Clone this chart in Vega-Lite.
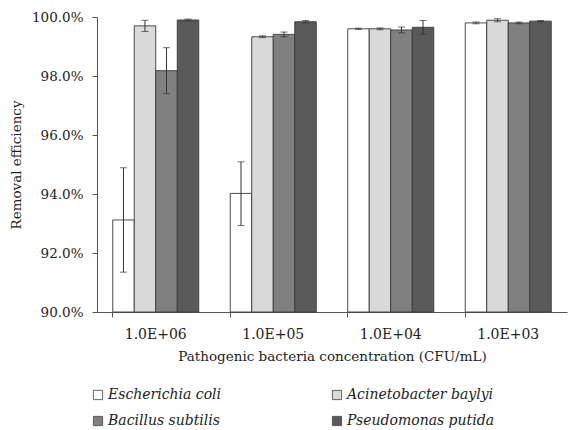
{
  "$schema": "https://vega.github.io/schema/vega-lite/v6.json",
  "autosize": "none",
  "width": 470,
  "height": 295,
  "padding": {"left": 97, "top": 17, "right": 1, "bottom": 118},
  "background": "white",
  "config": {
    "font": "DejaVu Serif",
    "view": {"stroke": null},
    "axis": {"labelFont": "DejaVu Serif", "titleFont": "DejaVu Serif", "labelColor": "#222", "titleColor": "#222", "titleFontWeight": "normal", "domainColor": "#555", "tickColor": "#555", "grid": false},
    "legend": {"labelFont": "DejaVu Serif"}
  },
  "data": {
    "values": [
      {"conc": "1.0E+06", "species": "Escherichia coli", "value": 0.9312, "lo": 0.9135, "hi": 0.9489},
      {"conc": "1.0E+06", "species": "Acinetobacter baylyi", "value": 0.9970, "lo": 0.9951, "hi": 0.9989},
      {"conc": "1.0E+06", "species": "Bacillus subtilis", "value": 0.9818, "lo": 0.9740, "hi": 0.9896},
      {"conc": "1.0E+06", "species": "Pseudomonas putida", "value": 0.9990, "lo": 0.9987, "hi": 0.9993},
      {"conc": "1.0E+05", "species": "Escherichia coli", "value": 0.9402, "lo": 0.9293, "hi": 0.9509},
      {"conc": "1.0E+05", "species": "Acinetobacter baylyi", "value": 0.9933, "lo": 0.9930, "hi": 0.9936},
      {"conc": "1.0E+05", "species": "Bacillus subtilis", "value": 0.9941, "lo": 0.9933, "hi": 0.9949},
      {"conc": "1.0E+05", "species": "Pseudomonas putida", "value": 0.9984, "lo": 0.9980, "hi": 0.9988},
      {"conc": "1.0E+04", "species": "Escherichia coli", "value": 0.9960, "lo": 0.9958, "hi": 0.9962},
      {"conc": "1.0E+04", "species": "Acinetobacter baylyi", "value": 0.9960, "lo": 0.9957, "hi": 0.9963},
      {"conc": "1.0E+04", "species": "Bacillus subtilis", "value": 0.9956, "lo": 0.9946, "hi": 0.9966},
      {"conc": "1.0E+04", "species": "Pseudomonas putida", "value": 0.9965, "lo": 0.9942, "hi": 0.9988},
      {"conc": "1.0E+03", "species": "Escherichia coli", "value": 0.9980, "lo": 0.9977, "hi": 0.9983},
      {"conc": "1.0E+03", "species": "Acinetobacter baylyi", "value": 0.9989, "lo": 0.9984, "hi": 0.9994},
      {"conc": "1.0E+03", "species": "Bacillus subtilis", "value": 0.9980, "lo": 0.9977, "hi": 0.9983},
      {"conc": "1.0E+03", "species": "Pseudomonas putida", "value": 0.9986, "lo": 0.9984, "hi": 0.9988}
    ]
  },
  "encoding": {
    "x": {
      "field": "conc", "type": "nominal", "sort": null,
      "scale": {"paddingInner": 0.268, "paddingOuter": 0.134},
      "axis": {"title": "Pathogenic bacteria concentration (CFU/mL)", "labelAngle": 0, "labelFontSize": 14, "titleFontSize": 13.5, "bandPosition": 0, "tickSize": 5, "labelPadding": 10, "titlePadding": 8}
    },
    "xOffset": {"field": "species", "type": "nominal", "sort": ["Escherichia coli", "Acinetobacter baylyi", "Bacillus subtilis", "Pseudomonas putida"]}
  },
  "layer": [
    {
      "mark": {"type": "bar", "stroke": "#3a3a3a", "strokeWidth": 0.9},
      "encoding": {
        "y": {"field": "value", "type": "quantitative", "scale": {"domain": [0.9, 1.0], "zero": false, "nice": false},
          "axis": {"title": "Removal efficiency", "format": ".1%", "values": [0.9, 0.92, 0.94, 0.96, 0.98, 1.0], "labelFontSize": 13.5, "titleFontSize": 13.5, "tickSize": 5, "labelPadding": 9, "titlePadding": 8}},
        "y2": {"datum": 0.9},
        "fill": {
          "field": "species", "type": "nominal",
          "sort": ["Escherichia coli", "Acinetobacter baylyi", "Bacillus subtilis", "Pseudomonas putida"],
          "scale": {"domain": ["Escherichia coli", "Acinetobacter baylyi", "Bacillus subtilis", "Pseudomonas putida"], "range": ["#ffffff", "#d9d9d9", "#808080", "#595959"]},
          "legend": {"title": null, "orient": "none", "direction": "horizontal", "legendX": -6, "legendY": 371, "columns": 2, "columnPadding": 108, "rowPadding": 12, "symbolType": "square", "symbolSize": 85, "symbolStrokeColor": "#444", "symbolStrokeWidth": 0.8, "labelFontStyle": "italic", "labelFontSize": 14, "labelColor": "#222", "labelOffset": 3, "labelLimit": 300}
        }
      }
    },
    {
      "mark": {"type": "rule", "color": "#333", "strokeWidth": 1},
      "encoding": {
        "y": {"field": "lo", "type": "quantitative"},
        "y2": {"field": "hi"}
      }
    },
    {
      "mark": {"type": "tick", "color": "#333", "thickness": 1, "size": 7, "orient": "horizontal"},
      "encoding": {"y": {"field": "lo", "type": "quantitative"}}
    },
    {
      "mark": {"type": "tick", "color": "#333", "thickness": 1, "size": 7, "orient": "horizontal"},
      "encoding": {"y": {"field": "hi", "type": "quantitative"}}
    }
  ]
}
